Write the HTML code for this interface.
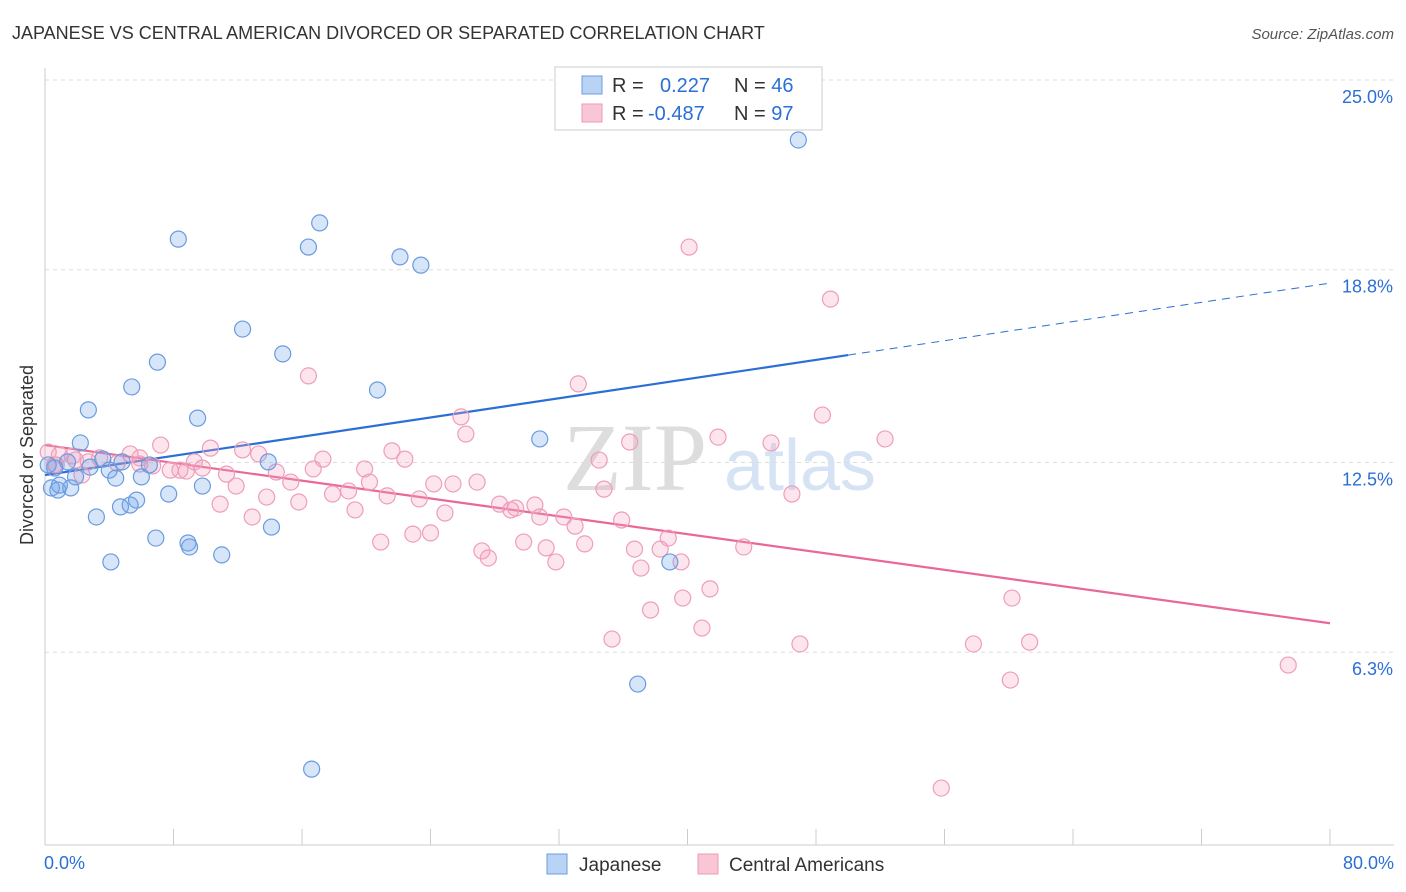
<!DOCTYPE html>
<html><head><meta charset="utf-8"><style>
body{margin:0;background:#fff;font-family:"Liberation Sans",sans-serif;}
svg{display:block}
</style></head><body>
<svg id="chart" width="1406" height="892" xmlns="http://www.w3.org/2000/svg">
<text x="12" y="39" font-size="18" fill="#333">JAPANESE VS CENTRAL AMERICAN DIVORCED OR SEPARATED CORRELATION CHART</text>
<text x="1394" y="39" font-size="15" fill="#555" font-style="italic" text-anchor="end">Source: ZipAtlas.com</text>
<g>
<text x="635" y="490" font-size="96" fill="#ddd" font-family="Liberation Serif,serif" text-anchor="middle">ZIP</text>
<text x="800" y="490" font-size="72" fill="#d5e3f5" text-anchor="middle">atlas</text>
</g>
<g id="grid"></g>
<g id="axes"></g>
<g id="trend"></g>
<g id="points"></g>
<g>
<rect x="555" y="67" width="267" height="63" fill="#fff" stroke="#ccc"/>
<rect x="582" y="76" width="20" height="18" fill="#b9d3f5" stroke="#6a9be0"/>
<rect x="582" y="104" width="20" height="18" fill="#f9c6d6" stroke="#ee9ab6"/>
<text x="612" y="92" font-size="20" fill="#333">R = <tspan fill="#2b6fd6" x="660">0.227</tspan><tspan fill="#333" x="734">N = </tspan><tspan fill="#2b6fd6">46</tspan></text>
<text x="612" y="120" font-size="20" fill="#333">R = <tspan fill="#2b6fd6" x="648">-0.487</tspan><tspan fill="#333" x="734">N = </tspan><tspan fill="#2b6fd6">97</tspan></text>
</g>
<g>
<rect x="547" y="854" width="20" height="20" fill="#b9d3f5" stroke="#6a9be0"/>
<text x="579" y="871" font-size="19" fill="#333">Japanese</text>
<rect x="698" y="854" width="20" height="20" fill="#f9c6d6" stroke="#ee9ab6"/>
<text x="729" y="871" font-size="19" fill="#333">Central Americans</text>
</g>
<text x="33" y="455" font-size="18" fill="#333" text-anchor="middle" transform="rotate(-90 33 455)">Divorced or Separated</text>
</svg>
<script>
const yTicks=[25.0,18.8,12.5,6.3];
const yTickLabels=["25.0%","18.8%","12.5%","6.3%"];
const xTicks=[0,8,16,24,32,40,48,56,64,72,80];
const xEndLabels=["0.0%","80.0%"];
const jpX=[46.9,17.1,8.3,16.4,22.1,23.4,12.3,14.8,7.0,5.4,20.7,2.7,9.5,2.2,30.8,13.9,3.6,1.4,4.8,6.5,2.8,4.0,0.6,1.9,6.0,4.4,0.9,0.4,1.6,0.8,9.8,7.7,5.7,4.7,5.3,3.2,14.1,6.9,8.9,9.0,11.0,4.1,38.9,36.9,16.6,0.2];
const jpY=[23.04,20.33,19.8,19.54,19.22,18.95,16.86,16.05,15.78,14.97,14.87,14.22,13.95,13.14,13.27,12.52,12.61,12.52,12.52,12.42,12.35,12.25,12.32,12.03,12.03,11.99,11.76,11.67,11.67,11.6,11.73,11.47,11.27,11.05,11.11,10.72,10.39,10.03,9.87,9.74,9.48,9.25,9.25,5.26,2.48,12.42];
const caX=[40.1,48.9,16.4,33.2,25.9,48.4,26.2,41.9,52.3,36.4,45.2,7.2,10.3,12.3,21.6,0.2,0.9,1.7,5.3,13.3,34.5,22.4,17.3,3.4,5.9,9.3,2.7,0.6,4.5,6.7,7.8,8.4,8.8,9.8,14.4,16.7,11.3,19.9,2.3,15.3,11.9,20.2,24.2,25.4,26.9,18.9,34.8,17.9,13.8,15.8,21.3,23.3,28.3,29.3,30.5,10.9,19.3,24.9,29.0,32.3,30.8,33.0,35.9,46.5,12.9,22.9,24.0,20.9,29.8,33.6,38.8,31.2,27.2,38.3,36.7,43.5,27.6,31.8,37.1,39.6,41.4,39.7,37.7,60.2,40.9,35.3,47.0,57.8,61.3,77.4,60.1,55.8,0.7,5.9,1.9];
const caY=[19.54,17.84,15.33,15.07,13.99,14.05,13.43,13.33,13.27,13.17,13.14,13.07,12.97,12.91,12.88,12.84,12.75,12.71,12.78,12.78,12.58,12.61,12.61,12.65,12.65,12.52,12.52,12.42,12.48,12.39,12.25,12.25,12.22,12.32,12.19,12.29,12.12,12.29,12.09,11.86,11.73,11.86,11.8,11.8,11.86,11.57,11.63,11.47,11.37,11.21,11.41,11.31,11.14,11.01,11.11,11.14,10.95,10.85,10.95,10.72,10.72,10.42,10.62,11.47,10.72,10.16,10.2,9.9,9.9,9.84,10.03,9.71,9.61,9.67,9.67,9.74,9.38,9.25,9.05,9.25,8.37,8.07,7.68,8.07,7.09,6.73,6.57,6.57,6.63,5.88,5.39,1.86,12.42,12.45,12.58];
const jpTrend=[12.09,0.0784]; // intercept, slope
const caTrend=[13.07,-0.0728];
const jpSolidEnd=50;

const NS="http://www.w3.org/2000/svg";
const X0=45,X1=1330,YTOP=80,YBOT=845;
const sx=v=>X0+(v/80)*(X1-X0);
const sy=v=>YBOT-(v/25)*(YBOT-YTOP);
function mk(tag,attrs,parent){const e=document.createElementNS(NS,tag);for(const k in attrs)e.setAttribute(k,attrs[k]);parent.appendChild(e);return e;}
const grid=document.getElementById('grid'),axes=document.getElementById('axes'),trend=document.getElementById('trend'),pts=document.getElementById('points');
yTicks.forEach((t,i)=>{
 const l=mk('line',{x1:X0,x2:1394,y1:sy(t),y2:sy(t),stroke:'#ddd','stroke-dasharray':'4,4'},grid);
 
 
 const tx=mk('text',{x:1393,y:sy(t)+23,'font-size':18,fill:'#2b6fd6','text-anchor':'end'},axes);
 tx.textContent=yTickLabels[i];
 
 
});
const ya=mk('line',{x1:X0,x2:X0,y1:68,y2:YBOT,stroke:'#ccc'},axes);


const xa=mk('line',{x1:X0,x2:1394,y1:YBOT,y2:YBOT,stroke:'#ccc'},axes);


xTicks.forEach(t=>{
 const l=mk('line',{x1:sx(t),x2:sx(t),y1:YBOT-16,y2:YBOT,stroke:'#ccc'},axes);
 
 
});
[[0,'start',44],[80,'end',1394]].forEach((d,i)=>{
 const tx=mk('text',{x:d[2],y:869,'font-size':18,fill:'#2b6fd6','text-anchor':d[1]},axes);
 tx.textContent=xEndLabels[i];
 
 
});
function drawPts(xs,ys,fill,stroke,name){
 xs.forEach((x,i)=>{
  const c=mk('circle',{cx:sx(x),cy:sy(ys[i]),r:8,fill:fill,stroke:stroke,'stroke-width':1.2},pts);
  
  
 });
}
drawPts(caX,caY,'rgba(244,160,190,0.28)','#ef9dba','central-american-point');
drawPts(jpX,jpY,'rgba(110,160,235,0.28)','#6a9be0','japanese-point');
const f=(tr,x)=>tr[0]+tr[1]*x;
const j1=mk('line',{x1:sx(0),y1:sy(f(jpTrend,0)),x2:sx(jpSolidEnd),y2:sy(f(jpTrend,jpSolidEnd)),stroke:'#2b6fd6','stroke-width':2.2},trend);


const j2=mk('line',{x1:sx(jpSolidEnd),y1:sy(f(jpTrend,jpSolidEnd)),x2:sx(80),y2:sy(f(jpTrend,80)),stroke:'#2b6fd6','stroke-width':1,'stroke-dasharray':'8,6'},trend);


const c1=mk('line',{x1:sx(0),y1:sy(f(caTrend,0)),x2:sx(80),y2:sy(f(caTrend,80)),stroke:'#e8689a','stroke-width':2.2},trend);


</script>
</body></html>
